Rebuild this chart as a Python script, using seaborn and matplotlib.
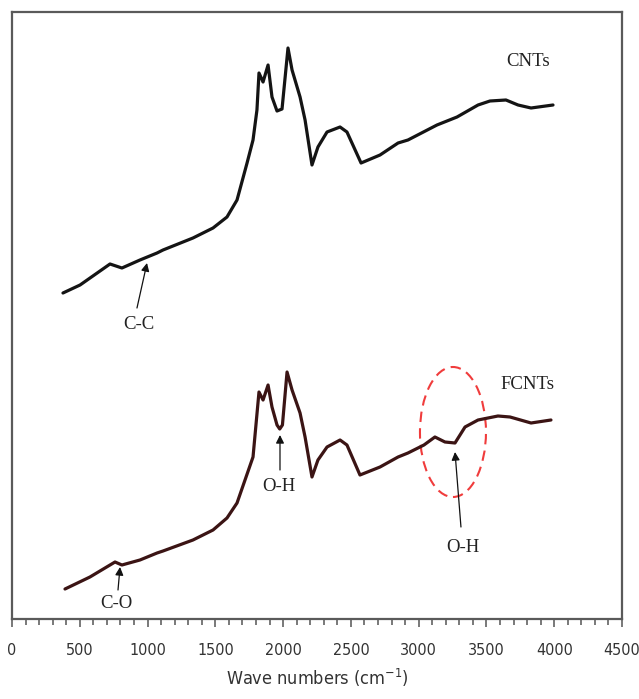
import matplotlib
matplotlib.use("Agg")
import matplotlib.pyplot as plt
from matplotlib.patches import Ellipse
import pandas as pd
import seaborn as sns

# FTIR spectra (wave number in cm^-1, relative transmittance, arbitrary offset units)
cnt_wavenumber = [376, 502, 723, 811, 944, 1070, 1114, 1335, 1483, 1586, 1660,
                  1734, 1778, 1807, 1822, 1852, 1889, 1918, 1955, 1992, 2036,
                  2066, 2125, 2162, 2213, 2257, 2324, 2420, 2471, 2575, 2715,
                  2848, 2921, 3135, 3283, 3438, 3526, 3644, 3733, 3829, 3991]
cnt_signal = [326, 334, 355, 351, 359, 366, 369, 381, 391, 402, 419,
              456, 479, 509, 546, 537, 554, 522, 508, 510, 571,
              549, 522, 499, 454, 472, 487, 492, 487, 456, 464,
              476, 479, 494, 502, 514, 518, 519, 514, 511, 514]

fcnt_wavenumber = [391, 575, 760, 811, 944, 1070, 1114, 1335, 1483, 1586, 1660,
                   1778, 1822, 1852, 1889, 1918, 1955, 1975, 1995, 2029, 2066,
                   2125, 2162, 2213, 2257, 2324, 2420, 2471, 2567, 2715, 2848,
                   2921, 3039, 3120, 3194, 3268, 3342, 3438, 3585, 3674, 3829,
                   3976]
fcnt_signal = [30, 42, 57, 54, 59, 66, 68, 79, 89, 101, 116,
               162, 227, 219, 234, 212, 194, 190, 194, 247, 229,
               206, 182, 142, 159, 172, 179, 174, 144, 152, 162,
               166, 174, 182, 177, 176, 192, 199, 203, 202, 196,
               199]

tick_values = list(range(0, 4501, 500))

spectra = pd.concat([
    pd.DataFrame({"wavenumber": cnt_wavenumber, "signal": cnt_signal, "sample": "CNTs"}),
    pd.DataFrame({"wavenumber": fcnt_wavenumber, "signal": fcnt_signal, "sample": "FCNTs"}),
])

sns.set_style("white")
serif_font = ["Liberation Serif", "DejaVu Serif"]
label_style = dict(family="DejaVu Sans", stretch="condensed", color="#333333")

fig = plt.figure(figsize=(6.39, 6.99), dpi=100)
ax = fig.add_axes([12 / 639, 1 - 619 / 699, 610 / 639, 607 / 699])

sns.lineplot(data=spectra, x="wavenumber", y="signal", hue="sample",
             palette={"CNTs": "#141414", "FCNTs": "#3b1414"},
             linewidth=2.3, legend=False, ax=ax, estimator=None,
             solid_joinstyle="round", solid_capstyle="round")

ax.set_xlim(0, 4500)
ax.set_ylim(0, 607)
ax.set_yticks([])
ax.set_xticks(tick_values)
ax.set_xticks(range(0, 4501, 100), minor=True)
ax.set_xticklabels([str(v) for v in tick_values], fontsize=11.5, **label_style)
ax.tick_params(axis="x", which="both", direction="out", bottom=True,
               color="#555555", width=1.1, pad=12)
ax.tick_params(axis="x", which="major", length=5.5)
ax.tick_params(axis="x", which="minor", length=4.5)
ax.set_xlabel("Wave numbers (cm$^{\\mathregular{-1}}$)", fontsize=13,
              labelpad=6, **label_style)
ax.set_ylabel("")
for side in ["left", "right", "top", "bottom"]:
    ax.spines[side].set_visible(True)
    ax.spines[side].set_color("#5a5a5a")
    ax.spines[side].set_linewidth(1.6)

# Sample labels
ax.text(3806, 557, "CNTs", family=serif_font, fontsize=13.5, ha="center", va="center",
        color="#222222")
ax.text(3799, 234, "FCNTs", family=serif_font, fontsize=13.5, ha="center", va="center",
        color="#222222")

# Band assignments
arrow = dict(arrowstyle="-|>", color="#111111", lw=0.9, mutation_scale=12,
             shrinkA=0, shrinkB=0)
bands = [
    ("C-C", (996, 356), (922, 311), (937, 294)),
    ("C-O", (797, 52), (782, 29), (767, 15)),
    ("O-H", (1977, 184), (1977, 149), (1970, 132)),
    ("O-H", (3268, 167), (3312, 92), (3327, 71)),
]
for name, tip, tail, where in bands:
    ax.annotate("", xy=tip, xytext=tail, arrowprops=arrow)
    ax.text(where[0], where[1], name, family=serif_font, fontsize=13.5,
            ha="center", va="center", color="#222222")

ax.add_patch(Ellipse((3253, 187), width=487, height=130, fill=False,
                     edgecolor="#f03c3c", linestyle=(0, (5, 3)), linewidth=1.5))

fig.savefig("out.png", dpi=100)
